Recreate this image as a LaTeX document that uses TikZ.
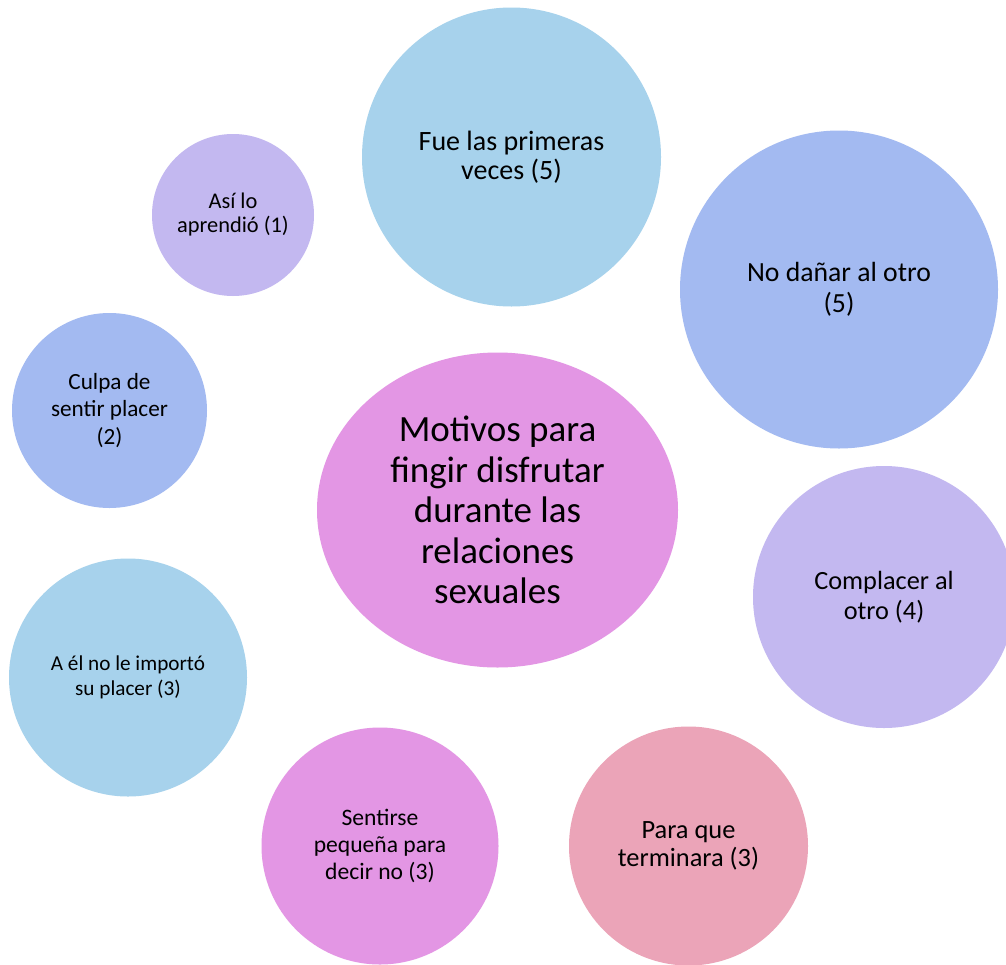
\documentclass[tikz,border=0pt]{standalone}
\usepackage{fontspec}
\setmainfont{Carlito}
\usetikzlibrary{shapes.geometric}

\definecolor{skyblue}{HTML}{A7D2EC}
\definecolor{periwinkle}{HTML}{A3BAF1}
\definecolor{lavender}{HTML}{C3B8F0}
\definecolor{orchid}{HTML}{E396E4}
\definecolor{rosepink}{HTML}{EBA4B8}

\tikzset{
  bubble/.style={circle, inner sep=0pt, align=center, text=black},
  hub/.style={ellipse, inner sep=0pt, align=center, text=black},
}

\begin{document}
\begin{tikzpicture}[x=1pt, y=-1pt]
  \useasboundingbox (0,0) rectangle (1006,964);
  \clip (0,0) rectangle (1006,964);
  \fill[white] (0,0) rectangle (1006,964);

  % central topic
  \node[hub, fill=orchid, minimum width=361pt, minimum height=315pt,
        font=\fontsize{37}{40.5}\selectfont] (hubnode) at (497.5,510)
        {Motivos para\\fingir disfrutar\\durante las\\relaciones\\sexuales};

  % surrounding reasons
  \node[bubble, fill=skyblue, minimum size=299pt,
        font=\fontsize{28}{28.5}\selectfont] (fue) at (511.5,157)
        {Fue las primeras\\veces (5)};
  \node[bubble, fill=periwinkle, minimum size=318pt,
        font=\fontsize{27.7}{31}\selectfont] (danar) at (839,289.5)
        {No dañar al otro\\(5)};
  \node[bubble, fill=lavender, minimum size=162pt,
        font=\fontsize{22.4}{24}\selectfont] (asi) at (233,215)
        {Así lo\\aprendió (1)};
  \node[bubble, fill=periwinkle, minimum size=195pt,
        font=\fontsize{23.2}{27.7}\selectfont] (culpa) at (109.5,410.5)
        {Culpa de\\sentir placer\\(2)};
  \node[bubble, fill=lavender, minimum size=262pt,
        font=\fontsize{26.3}{30.5}\selectfont] (complacer) at (884,597)
        {Complacer al\\otro (4)};
  \node[bubble, fill=skyblue, minimum size=238pt,
        font=\fontsize{21.2}{25}\selectfont] (ael) at (128,677.5)
        {A él no le importó\\su placer (3)};
  \node[bubble, fill=orchid, minimum size=237pt,
        font=\fontsize{23.6}{26.7}\selectfont] (sentirse) at (380,846)
        {Sentirse\\pequeña para\\decir no (3)};
  \node[bubble, fill=rosepink, minimum size=239pt,
        font=\fontsize{26.4}{28.3}\selectfont] (terminara) at (688.5,846)
        {Para que\\terminara (3)};
\end{tikzpicture}
\end{document}
